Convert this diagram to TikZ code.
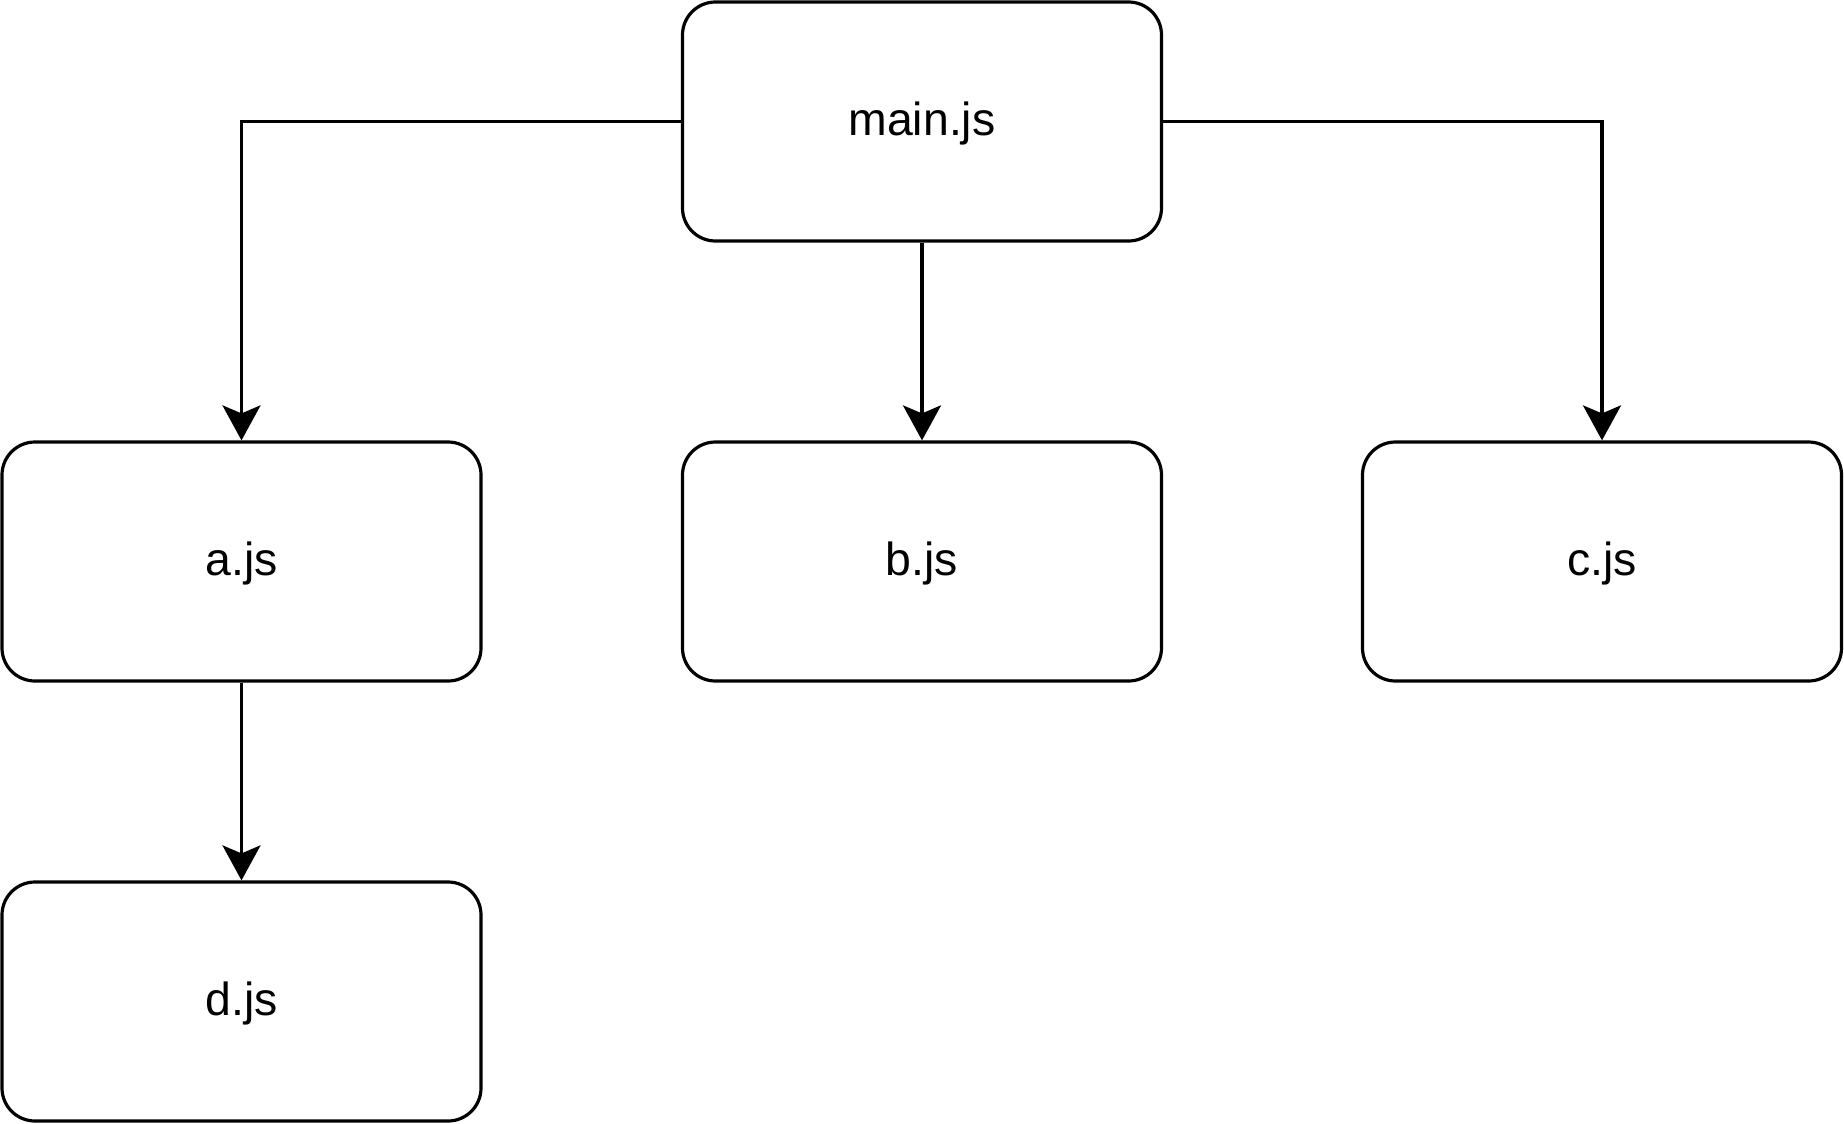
\documentclass[tikz,border=0pt]{standalone}
\usepackage{fontspec}
\setmainfont{Liberation Sans}
\usetikzlibrary{arrows.meta}
\begin{document}
\begin{tikzpicture}[x=0.5pt,y=-0.5pt,
  filebox/.style={draw=black,line width=1.6pt,rounded corners=16.5pt,
    minimum width=239.5pt,minimum height=119.5pt,inner sep=0pt,
    text height=14pt,text depth=0pt,
    font=\fontsize{23.2pt}{28pt}\selectfont},
  link/.style={draw=black,line width=1.6pt,
    -{Stealth[length=17.5pt,width=19pt,inset=4pt]}}]
\useasboundingbox (0,0) rectangle (1844,1124);
\node[filebox] (main) at (922,121.5) {main.js};
\node[filebox] (a) at (241.5,561.5) {a.js};
\node[filebox] (b) at (922,561.5) {b.js};
\node[filebox] (c) at (1602,561.5) {c.js};
\node[filebox] (d) at (241.5,1001.5) {d.js};
\draw[link] (main.west) -| (a.north);
\draw[link] (main.south) -- (b.north);
\draw[link] (main.east) -| (c.north);
\draw[link] (a.south) -- (d.north);
\end{tikzpicture}
\end{document}
